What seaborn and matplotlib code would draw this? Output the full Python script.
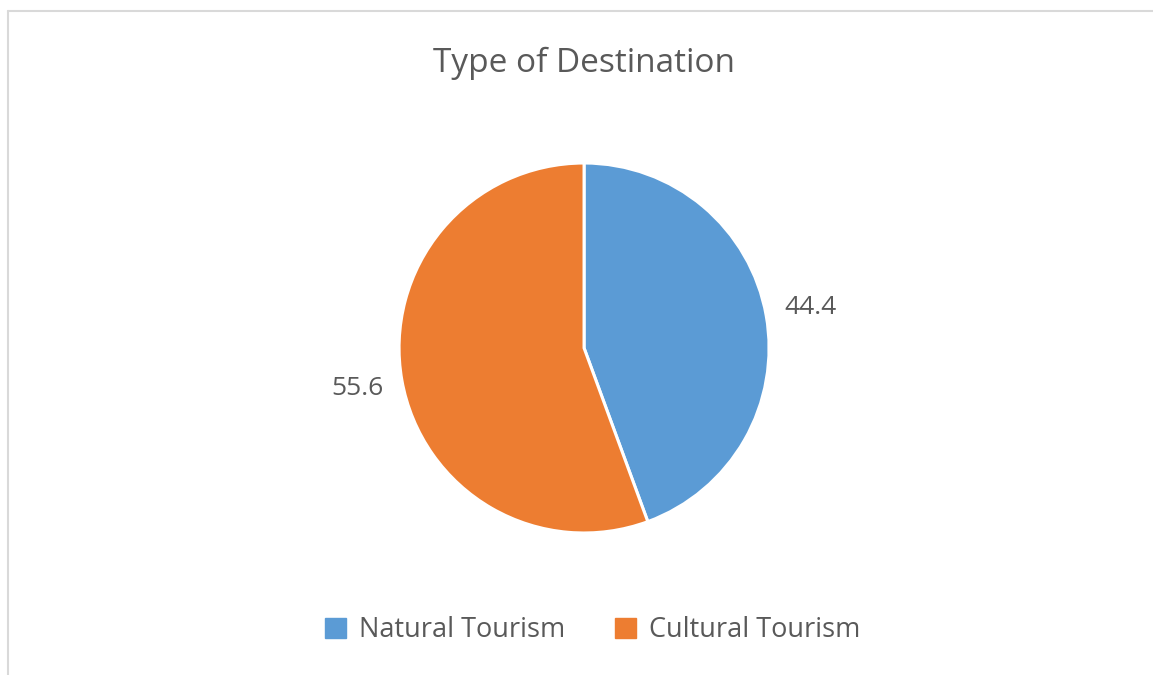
import matplotlib
matplotlib.use("Agg")
import matplotlib.pyplot as plt
from matplotlib.lines import Line2D
from matplotlib.patches import Patch
import seaborn as sns

# data
categories = ["Natural Tourism", "Cultural Tourism"]
values = [44.4, 55.6]
colors = ["#5B9BD5", "#ED7D31"]
title = "Type of Destination"

sns.set_theme(style="white")
plt.rcParams['font.family'] = ['Open Sans', 'DejaVu Sans']
text_color = "#595959"

palette = sns.color_palette(colors)

fig = plt.figure(figsize=(11.53, 6.75), dpi=100)
fig.patch.set_facecolor("white")

# pie axes placed so the pie sits in the middle of the chart area
ax = fig.add_axes([0.3461, 0.2104, 0.3209, 0.5481])
wedges, _, autotexts = ax.pie(
    values,
    colors=palette,
    startangle=90,
    counterclock=False,
    radius=1,
    autopct=lambda p: "%.1f" % p,
    pctdistance=1.245,
    wedgeprops=dict(edgecolor="white", linewidth=2.2),
)
for t in autotexts:
    t.set_fontsize(19)
    t.set_color(text_color)
ax.set_xlim(-1, 1)
ax.set_ylim(-1, 1)
ax.set_aspect("auto")
ax.axis("off")

# title
fig.text(0.5065, 0.906, title, ha="center", va="center",
         fontsize=24, color=text_color)

# legend
handles = [Patch(facecolor=c, edgecolor=c) for c in palette]
leg = fig.legend(handles, categories, loc="center", ncol=2,
                 bbox_to_anchor=(0.5143, 0.066), frameon=False,
                 fontsize=19.5, handlelength=0.75, handleheight=0.75,
                 handletextpad=0.5, columnspacing=1.85)
for t in leg.get_texts():
    t.set_color(text_color)

# chart area border (top and left only visible)
border = "#d9d9d9"
fig.add_artist(Line2D([7.5 / 1153, 1], [1 - 10.5 / 675, 1 - 10.5 / 675],
                      transform=fig.transFigure, color=border, linewidth=1.5))
fig.add_artist(Line2D([7.5 / 1153, 7.5 / 1153], [0, 1 - 10.5 / 675],
                      transform=fig.transFigure, color=border, linewidth=1.5))

fig.savefig("out.png", dpi=100, facecolor="white")
